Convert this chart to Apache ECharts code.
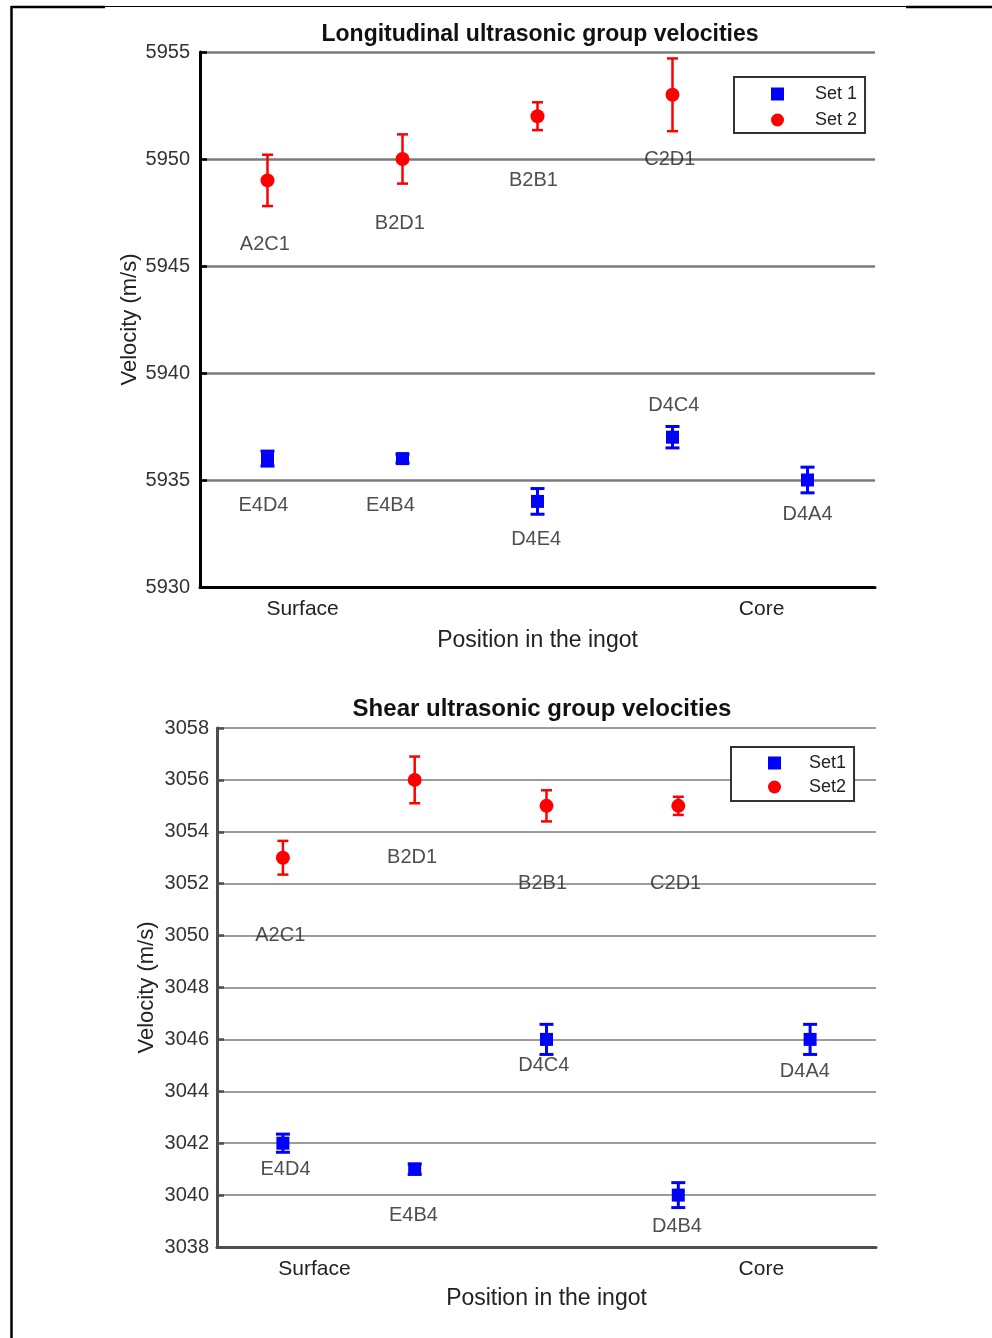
<!DOCTYPE html>
<html>
<head>
<meta charset="utf-8">
<title>Ultrasonic group velocities</title>
<script src="https://cdn.jsdelivr.net/npm/echarts@6/dist/echarts.min.js"></script>
<style>
  html, body { margin: 0; padding: 0; background: #fff; }
  #chart { width: 992px; height: 1338px; }
</style>
</head>
<body>
<div id="chart"></div>
<script>
// ---------- Longitudinal velocities (m/s) ----------
const longSet1Names = ['E4D4', 'E4B4', 'D4E4', 'D4C4', 'D4A4'];
const longSet1X     = [1, 2, 3, 4, 5];
const longSet1Vel   = [5936, 5936, 5934, 5937, 5935];
const longSet1Err   = [0.35, 0.2, 0.6, 0.5, 0.6];
const longSet1LabX  = [0.97, 1.91, 2.99, 4.01, 5.0];
const longSet1LabY  = [5933.8, 5933.8, 5932.2, 5938.5, 5933.4];

const longSet2Names = ['A2C1', 'B2D1', 'B2B1', 'C2D1'];
const longSet2X     = [1, 2, 3, 4];
const longSet2Vel   = [5949, 5950, 5952, 5953];
const longSet2Err   = [1.2, 1.15, 0.65, 1.7];
const longSet2LabX  = [0.98, 1.98, 2.97, 3.98];
const longSet2LabY  = [5946.0, 5947.0, 5949.0, 5950.0];

const longTickPos   = [1.26, 4.66];
const longTickText  = ['Surface', 'Core'];

// ---------- Shear velocities (m/s) ----------
const shearSet1Names = ['E4D4', 'E4B4', 'D4C4', 'D4B4', 'D4A4'];
const shearSet1X     = [1, 2, 3, 4, 5];
const shearSet1Vel   = [3042, 3041, 3046, 3040, 3046];
const shearSet1Err   = [0.35, 0.2, 0.58, 0.48, 0.58];
const shearSet1LabX  = [1.02, 1.99, 2.98, 3.99, 4.96];
const shearSet1LabY  = [3041.0, 3039.2, 3045.0, 3038.8, 3044.75];

const shearSet2Names = ['A2C1', 'B2D1', 'B2B1', 'C2D1'];
const shearSet2X     = [1, 2, 3, 4];
const shearSet2Vel   = [3053, 3056, 3055, 3055];
const shearSet2Err   = [0.65, 0.9, 0.6, 0.35];
const shearSet2LabX  = [0.98, 1.98, 2.97, 3.98];
const shearSet2LabY  = [3050.0, 3053.0, 3052.0, 3052.0];

const shearTickPos   = [1.24, 4.63];
const shearTickText  = ['Surface', 'Core'];

const FONT = '"Liberation Sans", Arial, sans-serif';
const BLUE = '#0000ff';
const RED = '#ff0000';

const points = (xs, ys) => ys.map((v, i) => [xs[i], v]);
const bars = (xs, ys, es) => ys.map((v, i) => [xs[i], v - es[i], v + es[i]]);
const labels = (xs, ys, names) => ys.map((v, i) => [xs[i], v, names[i]]);

function errorBarSeries(name, axisIdx, data, color, lineWidth, capHalf) {
  return {
    type: 'custom',
    name: name,
    xAxisIndex: axisIdx,
    yAxisIndex: axisIdx,
    silent: true,
    z: 2,
    encode: { x: 0, y: [1, 2] },
    data: data,
    renderItem: function (params, api) {
      const x = api.value(0);
      const top = api.coord([x, api.value(2)]);
      const bot = api.coord([x, api.value(1)]);
      const style = { stroke: color, lineWidth: lineWidth };
      return {
        type: 'group',
        children: [
          { type: 'line', shape: { x1: top[0], y1: top[1], x2: bot[0], y2: bot[1] }, style: style },
          { type: 'line', shape: { x1: top[0] - capHalf, y1: top[1], x2: top[0] + capHalf, y2: top[1] }, style: style },
          { type: 'line', shape: { x1: bot[0] - capHalf, y1: bot[1], x2: bot[0] + capHalf, y2: bot[1] }, style: style }
        ]
      };
    }
  };
}

function markerSeries(name, axisIdx, data, symbol, size, color) {
  return {
    type: 'scatter',
    name: name,
    xAxisIndex: axisIdx,
    yAxisIndex: axisIdx,
    symbol: symbol,
    symbolSize: size,
    itemStyle: { color: color, opacity: 1 },
    z: 3,
    silent: true,
    data: data
  };
}

function textSeries(name, axisIdx, data) {
  return {
    type: 'scatter',
    name: name,
    xAxisIndex: axisIdx,
    yAxisIndex: axisIdx,
    symbolSize: 0,
    silent: true,
    z: 4,
    data: data,
    label: {
      show: true,
      position: 'inside',
      formatter: p => p.data[2],
      color: '#222',
      fontSize: 20,
      fontFamily: FONT
    }
  };
}

function xAxisCfg(idx, tickPos, tickText, axisColor, gap) {
  return {
    gridIndex: idx,
    type: 'value',
    min: 0.5,
    max: 5.5,
    axisLine: { show: true, onZero: false, lineStyle: { color: axisColor, width: 3 } },
    axisTick: { show: false },
    splitLine: { show: false },
    axisLabel: {
      customValues: tickPos,
      formatter: v => {
        const k = tickPos.indexOf(v);
        return k >= 0 ? tickText[k] : '';
      },
      color: '#222',
      fontSize: 21,
      fontFamily: FONT,
      margin: 12
    },
    name: 'Position in the ingot',
    nameLocation: 'middle',
    nameGap: gap,
    nameMoveOverlap: false,
    nameTextStyle: { color: '#222', fontSize: 23, fontFamily: FONT }
  };
}

function yAxisCfg(idx, min, max, step, axisColor, gridColor, gridWidth, labelMargin, nameGap) {
  return {
    gridIndex: idx,
    type: 'value',
    min: min,
    max: max,
    interval: step,
    axisLine: { show: true, lineStyle: { color: axisColor, width: 3 } },
    axisTick: { show: true, inside: true, length: 7, lineStyle: { color: axisColor, width: 2.5 } },
    splitLine: { show: true, lineStyle: { color: gridColor, width: gridWidth } },
    axisLabel: { color: '#333', fontSize: 20, fontFamily: FONT, margin: labelMargin, formatter: v => String(v) },
    name: 'Velocity (m/s)',
    nameLocation: 'middle',
    nameGap: nameGap,
    nameMoveOverlap: false,
    nameTextStyle: { color: '#222', fontSize: 22, fontFamily: FONT }
  };
}

const chart = echarts.init(document.getElementById('chart'), null, { renderer: 'canvas' });

const option = {
  backgroundColor: '#ffffff',
  animation: false,
  textStyle: { fontFamily: FONT },
  grid: [
    { left: 200, top: 52, width: 675, height: 535 },
    { left: 217, top: 728, width: 659, height: 519 }
  ],
  xAxis: [
    xAxisCfg(0, longTickPos, longTickText, '#000', 42),
    xAxisCfg(1, shearTickPos, shearTickText, '#4d4d4d', 40)
  ],
  yAxis: [
    yAxisCfg(0, 5930, 5955, 5, '#000', '#7a7a7a', 2.5, 10, 59),
    yAxisCfg(1, 3038, 3058, 2, '#4d4d4d', '#9c9c9c', 2, 8, 59)
  ],
  legend: [
    {
      data: ['Set 1', 'Set 2'],
      orient: 'vertical',
      left: 734,
      top: 77,
      itemWidth: 13,
      itemHeight: 13,
      itemGap: 8,
      padding: [8, 8, 4, 37],
      borderColor: '#333',
      borderWidth: 2,
      backgroundColor: '#fff',
      selectedMode: false,
      textStyle: { color: '#222', fontSize: 18, fontFamily: FONT, padding: [0, 0, 0, 26] }
    },
    {
      data: ['Set1', 'Set2'],
      orient: 'vertical',
      left: 731,
      top: 747,
      itemWidth: 13,
      itemHeight: 13,
      itemGap: 6,
      padding: [7, 8, 5, 37],
      borderColor: '#333',
      borderWidth: 2,
      backgroundColor: '#fff',
      selectedMode: false,
      textStyle: { color: '#222', fontSize: 18, fontFamily: FONT, padding: [0, 0, 0, 23] }
    }
  ],
  series: [
    errorBarSeries('err-long-1', 0, bars(longSet1X, longSet1Vel, longSet1Err), BLUE, 3, 7),
    errorBarSeries('err-long-2', 0, bars(longSet2X, longSet2Vel, longSet2Err), RED, 2.5, 5.5),
    markerSeries('Set 1', 0, points(longSet1X, longSet1Vel), 'rect', 13, BLUE),
    markerSeries('Set 2', 0, points(longSet2X, longSet2Vel), 'circle', 14, RED),
    textSeries('names-long-1', 0, labels(longSet1LabX, longSet1LabY, longSet1Names)),
    textSeries('names-long-2', 0, labels(longSet2LabX, longSet2LabY, longSet2Names)),

    errorBarSeries('err-shear-1', 1, bars(shearSet1X, shearSet1Vel, shearSet1Err), BLUE, 3, 7),
    errorBarSeries('err-shear-2', 1, bars(shearSet2X, shearSet2Vel, shearSet2Err), RED, 2.5, 5.5),
    markerSeries('Set1', 1, points(shearSet1X, shearSet1Vel), 'rect', 13, BLUE),
    markerSeries('Set2', 1, points(shearSet2X, shearSet2Vel), 'circle', 14, RED),
    textSeries('names-shear-1', 1, labels(shearSet1LabX, shearSet1LabY, shearSet1Names)),
    textSeries('names-shear-2', 1, labels(shearSet2LabX, shearSet2LabY, shearSet2Names))
  ],
  graphic: [
    // page frame
    { type: 'line', silent: true, shape: { x1: 12, y1: 6.5, x2: 992, y2: 6.5 }, style: { stroke: '#000', lineWidth: 1.2 } },
    { type: 'line', silent: true, shape: { x1: 11, y1: 7, x2: 105, y2: 7 }, style: { stroke: '#000', lineWidth: 2.5 } },
    { type: 'line', silent: true, shape: { x1: 906, y1: 7, x2: 992, y2: 7 }, style: { stroke: '#000', lineWidth: 2.5 } },
    { type: 'line', silent: true, shape: { x1: 11.5, y1: 6, x2: 11.5, y2: 1338 }, style: { stroke: '#000', lineWidth: 2.5 } },
    // panel titles
    {
      type: 'text', silent: true, x: 540, y: 35,
      style: { text: 'Longitudinal ultrasonic group velocities', align: 'center', verticalAlign: 'middle',
               fill: '#111', font: 'bold 23px ' + FONT }
    },
    {
      type: 'text', silent: true, x: 542, y: 709,
      style: { text: 'Shear ultrasonic group velocities', align: 'center', verticalAlign: 'middle',
               fill: '#111', font: 'bold 24px ' + FONT }
    }
  ]
};

chart.setOption(option);
</script>
</body>
</html>
